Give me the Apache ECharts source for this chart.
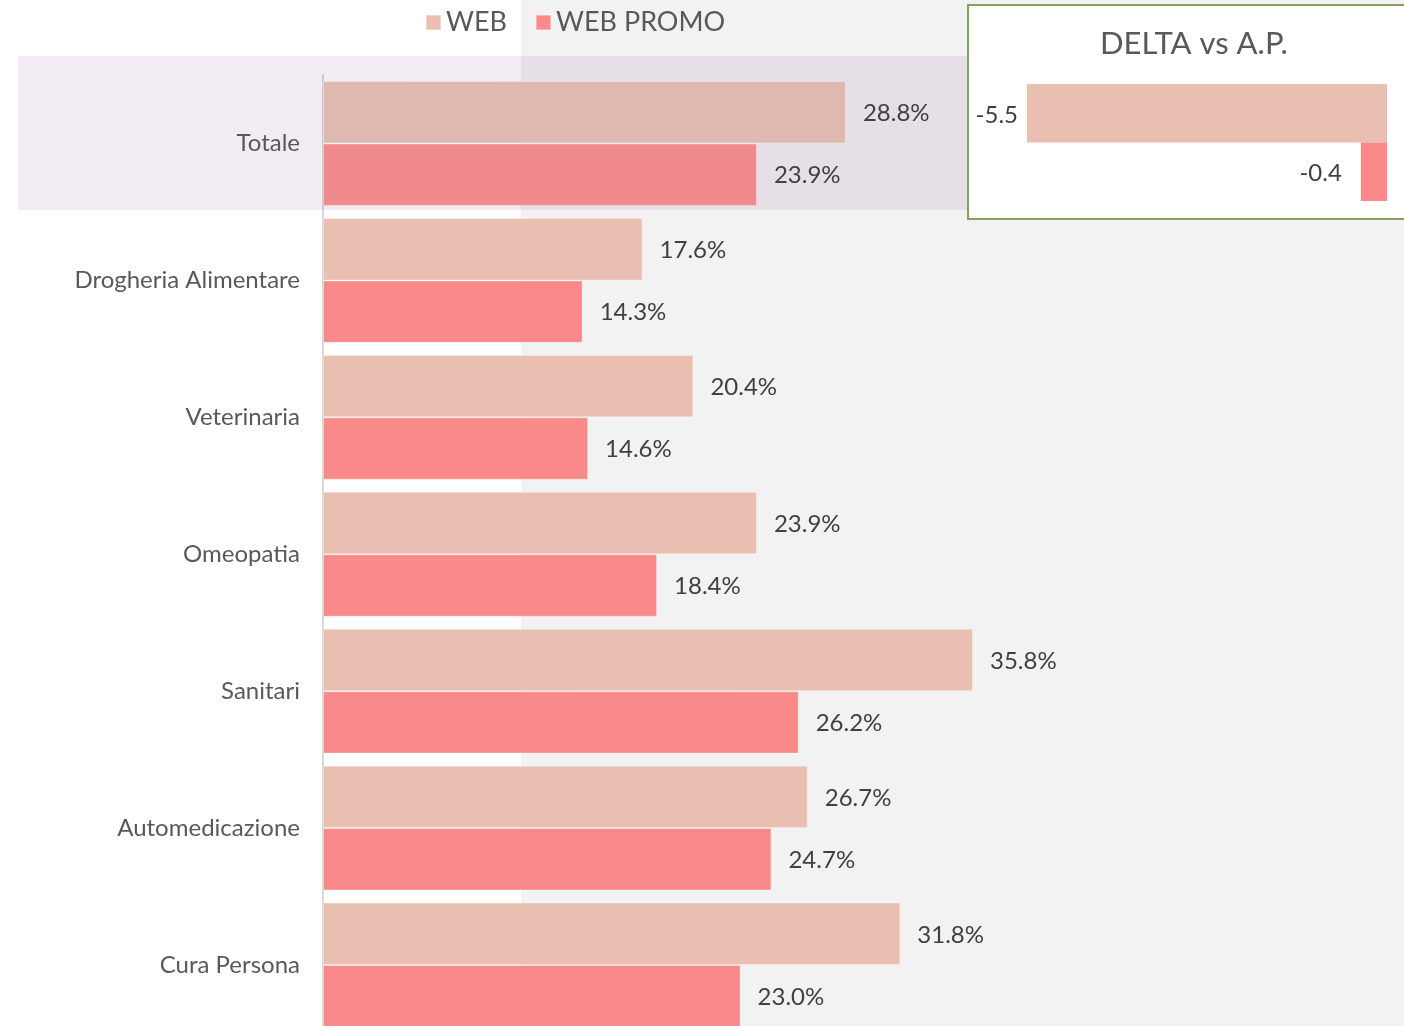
<!DOCTYPE html>
<html>
<head>
<meta charset="utf-8">
<script src="https://cdn.jsdelivr.net/npm/echarts@6/dist/echarts.min.js"></script>
<style>
  html, body { margin: 0; padding: 0; background: #fff; }
  #chart { width: 1404px; height: 1026px; }
</style>
</head>
<body>
<div id="chart"></div>
<script>
// categorie e valori (%)
const categories = ['Totale', 'Drogheria Alimentare', 'Veterinaria', 'Omeopatia', 'Sanitari', 'Automedicazione', 'Cura Persona']
const webValues = [28.8, 17.6, 20.4, 23.9, 35.8, 26.7, 31.8]
const webPromoValues = [23.9, 14.3, 14.6, 18.4, 26.2, 24.7, 23.0]
// riquadro delta vs anno precedente
const deltaCategories = ['Totale']
const deltaWeb = [-5.5]
const deltaWebPromo = [-0.4]

const colorWeb = '#e8bfb0'
const colorPromo = '#fa8a8a'
// riga Totale evidenziata
const colorWebTot = '#dfb8b0'
const colorPromoTot = '#f08a8c'
const fontFamily = 'Lato, "Open Sans", sans-serif'

const chart = echarts.init(document.getElementById('chart'))

const labelStyle = {
  show: true,
  fontFamily: fontFamily,
  fontSize: 24,
  color: '#404040'
}

const option = {
  backgroundColor: '#fff',
  animation: false,
  textStyle: { fontFamily: fontFamily },
  title: {
    text: 'DELTA vs A.P.',
    left: 1095,
    top: 23,
    z: 30,
    textStyle: {
      fontFamily: fontFamily,
      fontSize: 31,
      fontWeight: 'normal',
      color: '#595959'
    }
  },
  legend: {
    left: 425,
    top: 9,
    padding: 0,
    itemWidth: 15,
    itemHeight: 15,
    itemGap: 28,
    icon: 'rect',
    data: ['WEB', 'WEB PROMO'],
    textStyle: {
      fontFamily: fontFamily,
      fontSize: 27,
      color: '#595959'
    }
  },
  graphic: [
    { // area grigia del grafico
      type: 'rect',
      z: 0,
      silent: true,
      shape: { x: 521, y: 0, width: 900, height: 1026 },
      style: { fill: '#f2f2f2' }
    },
    { // evidenza riga Totale
      type: 'rect',
      z: 1,
      silent: true,
      shape: { x: 18, y: 56, width: 949, height: 154 },
      style: { fill: 'rgba(125, 55, 135, 0.1)' }
    },
    { // riquadro delta
      type: 'rect',
      z: 20,
      silent: true,
      shape: { x: 968, y: 5, width: 450, height: 214 },
      style: { fill: '#fff', stroke: '#82a35f', lineWidth: 2 }
    }
  ],
  grid: [
    { left: 323, top: 75, height: 958.5, right: 173.2, outerBoundsMode: 'none' },
    { left: 1027, top: 84, height: 117, right: 17, outerBoundsMode: 'none' }
  ],
  xAxis: [
    {
      type: 'value',
      gridIndex: 0,
      min: 0,
      max: 50,
      show: false
    },
    {
      type: 'value',
      gridIndex: 1,
      min: -5.5,
      max: 0,
      show: false
    }
  ],
  yAxis: [
    {
      type: 'category',
      gridIndex: 0,
      inverse: true,
      data: categories,
      axisLine: { show: true, lineStyle: { color: '#d9d9d9', width: 2 } },
      axisTick: { show: false },
      axisLabel: {
        margin: 23,
        fontFamily: fontFamily,
        fontSize: 24,
        color: '#595959'
      }
    },
    {
      type: 'category',
      gridIndex: 1,
      inverse: true,
      data: deltaCategories,
      show: false
    }
  ],
  series: [
    {
      name: 'WEB',
      type: 'bar',
      xAxisIndex: 0,
      yAxisIndex: 0,
      data: webValues.map((v, i) => i === 0 ? { value: v, itemStyle: { color: colorWebTot } } : v),
      barGap: '0%',
      barCategoryGap: '8.8%',
      itemStyle: { color: colorWeb, borderColor: 'rgba(255,255,255,0.35)', borderWidth: 1 },
      label: Object.assign({}, labelStyle, {
        position: 'right',
        distance: 17,
        offset: [0, 1],
        formatter: p => p.value.toFixed(1) + '%'
      })
    },
    {
      name: 'WEB PROMO',
      type: 'bar',
      xAxisIndex: 0,
      yAxisIndex: 0,
      data: webPromoValues.map((v, i) => i === 0 ? { value: v, itemStyle: { color: colorPromoTot } } : v),
      barGap: '0%',
      barCategoryGap: '8.8%',
      itemStyle: { color: colorPromo, borderColor: 'rgba(255,255,255,0.35)', borderWidth: 1 },
      label: Object.assign({}, labelStyle, {
        position: 'right',
        distance: 17,
        offset: [0, 1],
        formatter: p => p.value.toFixed(1) + '%'
      })
    },
    {
      name: 'WEB',
      type: 'bar',
      xAxisIndex: 1,
      yAxisIndex: 1,
      z: 30,
      data: deltaWeb,
      barGap: '0%',
      barCategoryGap: '0%',
      itemStyle: { color: colorWeb },
      label: Object.assign({}, labelStyle, {
        position: 'left',
        distance: 9,
        offset: [0, 2],
        formatter: p => p.value.toFixed(1)
      })
    },
    {
      name: 'WEB PROMO',
      type: 'bar',
      xAxisIndex: 1,
      yAxisIndex: 1,
      z: 30,
      data: deltaWebPromo,
      barGap: '0%',
      barCategoryGap: '0%',
      itemStyle: { color: colorPromo },
      label: Object.assign({}, labelStyle, {
        position: 'left',
        distance: 19,
        offset: [0, 2],
        formatter: p => p.value.toFixed(1)
      })
    }
  ]
}

chart.setOption(option)
</script>
</body>
</html>
